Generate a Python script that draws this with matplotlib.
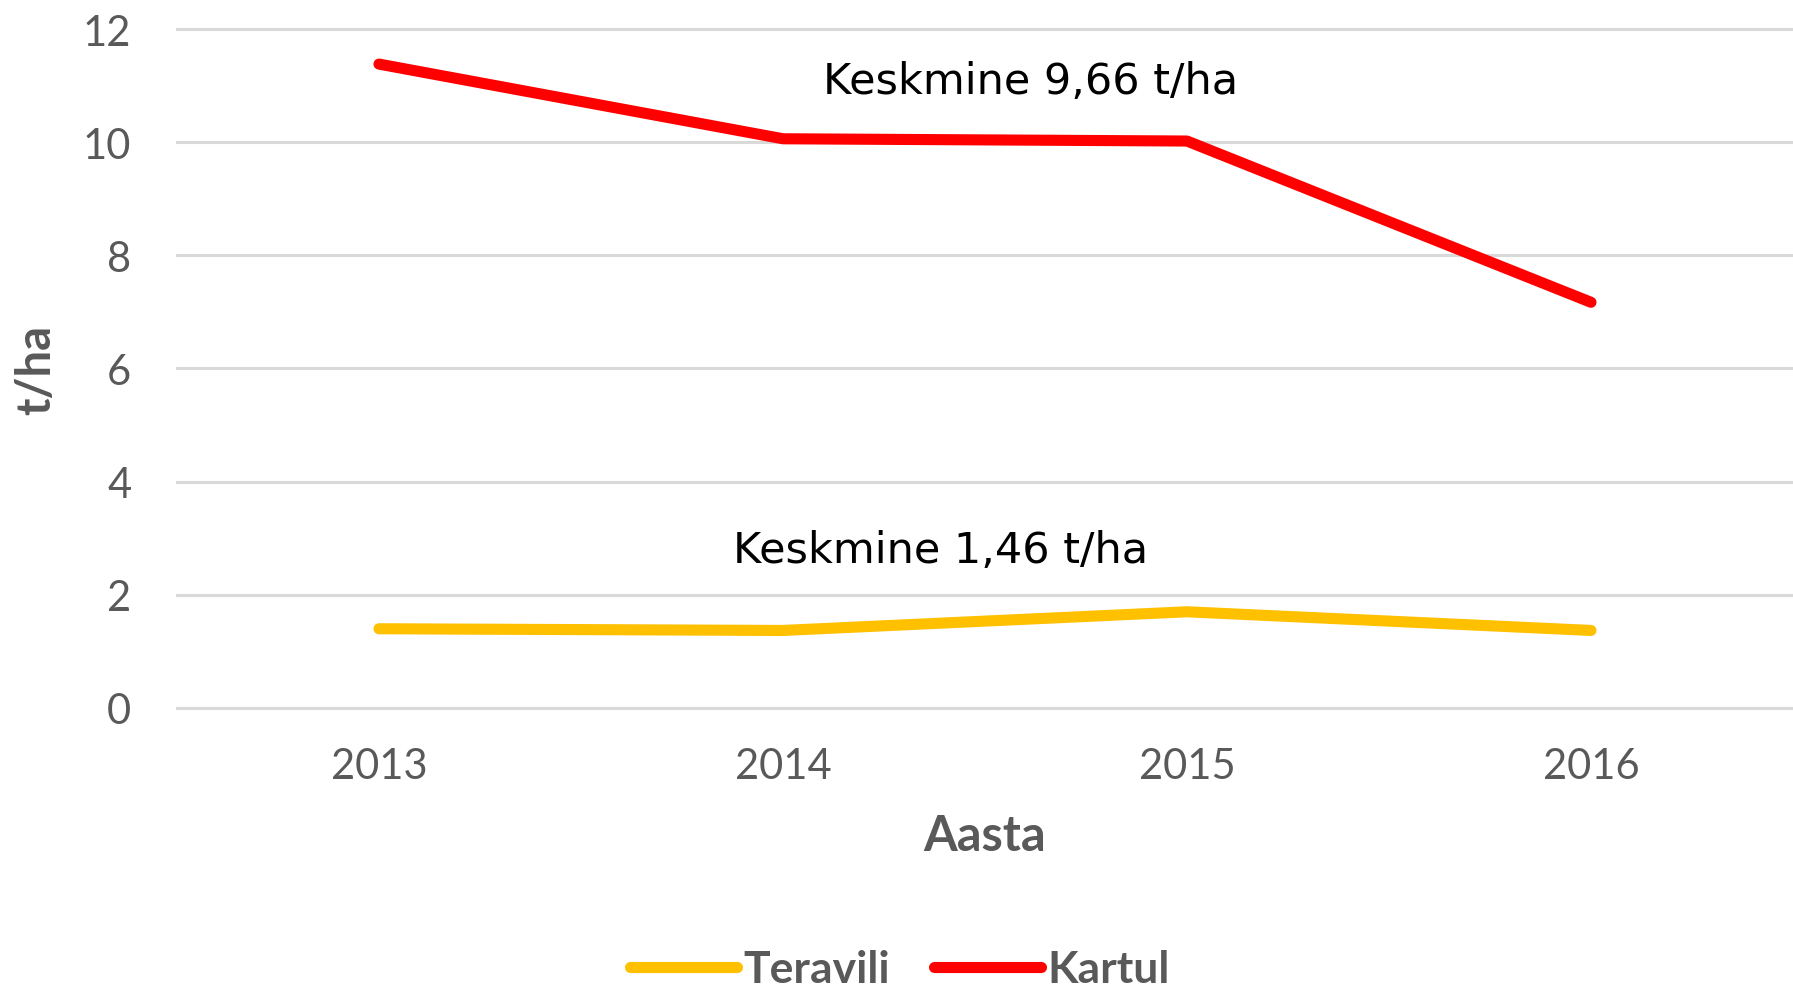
import matplotlib
matplotlib.use("Agg")
import matplotlib.pyplot as plt

years = ["2013", "2014", "2015", "2016"]
teravili = [1.40, 1.37, 1.70, 1.37]
kartul = [11.38, 10.06, 10.02, 7.17]
y_ticks = [0, 2, 4, 6, 8, 10, 12]

GRAY = "#595959"
plt.rcParams["font.family"] = ["Lato", "DejaVu Sans"]

fig = plt.figure(figsize=(17.93, 9.87), dpi=100)
ax = fig.add_axes([0.0987, 0.2817, 0.9013, 0.6879])

x = list(range(len(years)))
ax.plot(x, teravili, color="#FFC000", lw=8, solid_capstyle="round",
        solid_joinstyle="round", label="Teravili", zorder=3)
ax.plot(x, kartul, color="#FF0000", lw=8, solid_capstyle="round",
        solid_joinstyle="round", label="Kartul", zorder=3)

ax.set_xlim(-0.5, 3.5)
ax.set_ylim(0, 12)
ax.set_yticks(y_ticks)
ax.set_xticks(x)
ax.set_xticklabels(years)
for s in ax.spines.values():
    s.set_visible(False)
ax.grid(axis="y", color="#D9D9D9", lw=2.2, zorder=0)
for gl in ax.get_ygridlines():
    gl.set_clip_on(False)
ax.tick_params(axis="both", length=0, labelsize=30, labelcolor=GRAY)
ax.tick_params(axis="y", pad=33)
ax.tick_params(axis="x", pad=28)

ax.set_xlabel("Aasta", fontsize=35, fontweight="bold", color=GRAY, labelpad=20)
ax.set_ylabel("t/ha", fontsize=34, fontweight="bold", color=GRAY, labelpad=18)

ax.text(1.614, 11.08, "Keskmine 9,66 t/ha", fontsize=31, family="DejaVu Sans",
        ha="center", va="center", color="black")
ax.text(1.39, 2.80, "Keskmine 1,46 t/ha", fontsize=31, family="DejaVu Sans",
        ha="center", va="center", color="black")

leg = fig.legend(loc="center", bbox_to_anchor=(0.502, 0.017), ncol=2,
                 frameon=False, handlelength=2.4, handletextpad=0.15,
                 columnspacing=1.0, prop={"size": 32, "weight": "bold"})
for t in leg.get_texts():
    t.set_color(GRAY)

fig.savefig("out.png", dpi=100)
